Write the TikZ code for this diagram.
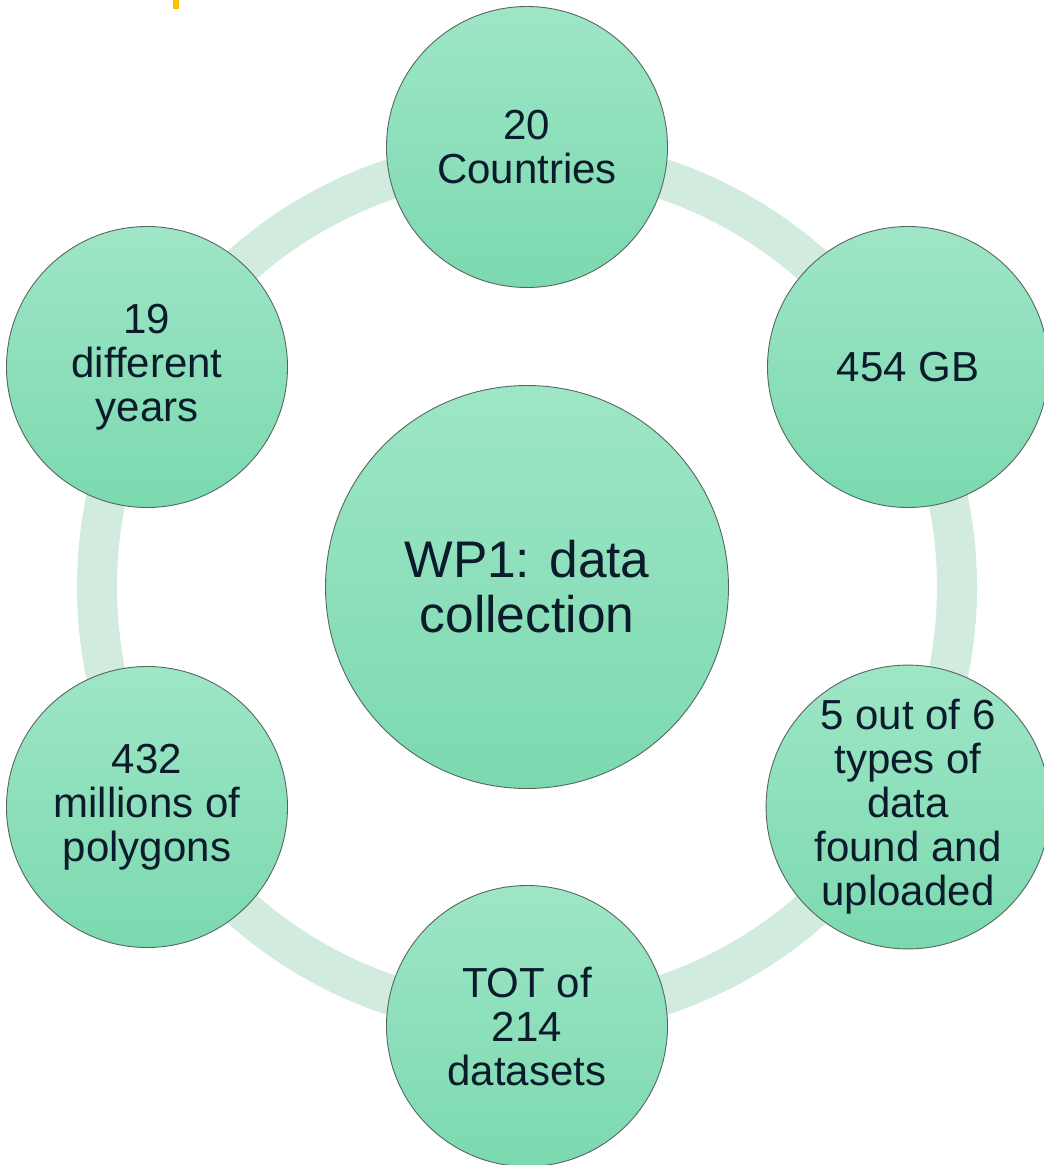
\documentclass[tikz,border=0pt]{standalone}
\usepackage{fontspec}
\setmainfont{Liberation Sans}
\definecolor{ringc}{HTML}{D2EBDF}
\definecolor{topc}{HTML}{9EE6C6}
\definecolor{botc}{HTML}{7BD9AF}
\definecolor{edgec}{HTML}{56675F}
\definecolor{txtc}{HTML}{0B1B2B}
\definecolor{marky}{HTML}{FFC000}
\tikzset{
  bubble/.style={circle, inner sep=0pt, minimum size=281, top color=topc, bottom color=botc,
    draw=edgec, line width=0.9pt, align=center, text=txtc,
    font=\fontsize{42}{44}\selectfont},
  hub/.style={bubble, minimum size=403, font=\fontsize{51.5}{55}\selectfont},
  ringline/.style={draw=ringc, line width=40}
}
\begin{document}
\begin{tikzpicture}[x=1pt,y=-1pt]
\useasboundingbox (0,0) rectangle (1044,1165);
\fill[marky] (173,0) rectangle (179,9);
\coordinate (ctr) at (527,587);
\draw[ringline] (ctr) circle[radius=430];
\node[hub] (hub) at (ctr) {WP1: data\\collection};
\node[bubble] (n1) at (527,147) {20\\Countries};
\node[bubble] (n2) at (908,367) {454 GB};
\node[bubble] (n3) at (908,807) {5 out of 6\\types of\\data\\found and\\uploaded};
\node[bubble] (n4) at (527,1026) {TOT of\\214\\datasets};
\node[bubble] (n5) at (147,807) {432\\millions of\\polygons};
\node[bubble] (n6) at (147,367) {19\\different\\years};
\end{tikzpicture}
\end{document}
